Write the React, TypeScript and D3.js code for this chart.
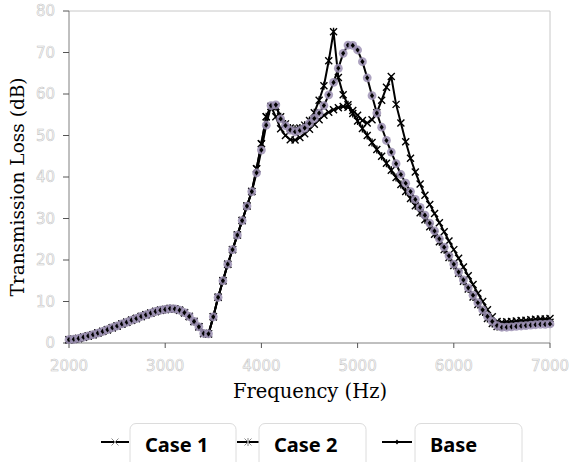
import React from 'react'
import * as d3 from 'd3'

const width = 571
const height = 462
const margin = { left: 69, right: 21, top: 11, bottom: 119 }

// frequency grid of the solver output, 50 Hz steps
const freqs = d3.range(2000, 7001, 50)
const xTicks = [2000, 3000, 4000, 5000, 6000, 7000]
const yTicks = [0, 10, 20, 30, 40, 50, 60, 70, 80]

// 2000 - 3450 Hz, the three curves sit on top of each other
const lowBand = [0.8, 0.9, 1.1, 1.4, 1.7, 2.0, 2.4, 2.8, 3.2, 3.7, 4.1, 4.6, 5.0, 5.5, 5.9, 6.4, 6.8, 7.2, 7.6, 7.9, 8.1, 8.3, 8.2, 7.9, 7.3, 6.4, 5.2, 3.9, 2.3, 2.2]
// 3500 - 4100 Hz
const riseBase = [6.3, 11.0, 15.0, 19.0, 22.5, 26.0, 29.5, 33.0, 36.5, 41.0, 46.5, 52.5, 57.2]
const riseCase = [6.3, 11.0, 15.0, 19.0, 22.5, 26.0, 29.5, 33.0, 36.5, 42.0, 48.0, 54.5, 57.0]

// 4150 - 7000 Hz
const case1High = [54.5, 51.6, 50.0, 49.0, 48.9, 49.5, 50.4, 51.5, 52.7, 53.8, 54.9, 55.6, 56.2, 56.7, 57.0, 56.8, 56.0, 54.9,
  53.6, 53.0, 53.8, 55.5, 58.5, 61.6, 64.2, 57.5, 53.0, 48.5, 44.5, 41.2, 38.3, 35.6, 33.4, 31.2, 29.0, 26.8, 24.6, 22.5,
  20.4, 18.3, 16.2, 14.1, 12.0, 10.0, 8.0, 6.3, 5.2, 5.0, 5.1, 5.2, 5.3, 5.4, 5.5, 5.6, 5.7, 5.8, 5.8, 5.9]
const case2High = [57.0, 54.5, 52.8, 51.8, 51.5, 51.8, 52.5, 53.6, 55.5, 58.5, 62.0, 68.0, 75.0, 64.0, 59.8, 57.4, 55.3, 53.5,
  51.7, 50.0, 48.3, 46.6, 45.0, 43.3, 41.6, 39.9, 38.2, 36.5, 34.8, 33.1, 31.4, 29.7, 28.0, 26.2, 24.4, 22.5, 20.6, 18.7,
  16.8, 14.9, 13.0, 11.1, 9.3, 7.5, 5.9, 4.7, 4.0, 4.0, 4.1, 4.2, 4.3, 4.4, 4.5, 4.6, 4.7, 4.8, 4.9, 5.0]
const baseHigh = [57.4, 54.0, 52.4, 51.3, 50.9, 51.2, 51.8, 52.9, 54.1, 55.4, 57.2, 59.8, 62.8, 66.2, 69.8, 71.8, 71.7, 70.6,
  67.8, 63.9, 59.6, 55.4, 52.0, 48.8, 46.0, 43.2, 40.6, 38.5, 36.5, 34.6, 32.7, 30.8, 28.9, 27.0, 25.1, 23.1, 21.0, 19.0,
  17.1, 15.2, 13.3, 11.5, 9.7, 8.0, 6.4, 5.2, 4.2, 3.8, 3.8, 3.9, 4.0, 4.1, 4.2, 4.3, 4.4, 4.5, 4.5, 4.6]

const case1 = [...lowBand, ...riseCase, ...case1High]
const case2 = [...lowBand, ...riseCase, ...case2High]
const base = [...lowBand, ...riseBase, ...baseHigh]

const seriesNames = ['Case 1', 'Case 2', 'Base']
const seriesValues = [case1, case2, base]

const x = d3.scaleLinear().domain([2000, 7000]).range([margin.left, width - margin.right])
const y = d3.scaleLinear().domain([0, 80]).range([height - margin.bottom, margin.top])

const line = d3.line<number>()
  .x((d, i) => x(freqs[i]))
  .y(d => y(d))

const Marker = ({ kind, cx, cy, legend }: { kind: number, cx: number, cy: number, legend?: boolean }) => {
  const col = legend ? '#8a8a8a' : '#000'
  if (kind === 2) {
    return (
      <g transform={`translate(${cx},${cy})`}>
        {!legend && <circle r={4.4} fill="#9d92b4" opacity={0.85} />}
        <path d="M0,-2.6L2.1,0L0,2.6L-2.1,0Z" fill="#000" />
      </g>
    )
  }
  const s = 3.5
  let d = `M${-s},${-s}L${s},${s}M${-s},${s}L${s},${-s}`
  if (kind === 1) d += `M0,${-s - 0.5}V${s + 0.5}`
  return <path transform={`translate(${cx},${cy})`} d={d} stroke={col} strokeWidth={legend ? 1 : 1.4} fill="none" />
}

const legendItems = [
  { line: [101, 129], box: [130, 236], text: 145 },
  { line: [237, 259], box: [259, 366], text: 274 },
  { line: [382, 412], box: [415, 522], text: 430 },
]

const tickText = { fontFamily: 'DejaVu Sans', fontSize: 15, fill: '#fbfbfb', stroke: '#c2c2c2', strokeWidth: 0.55 }

export default function App() {
  const x0 = margin.left
  const x1 = width - margin.right
  const y0 = height - margin.bottom
  const y1 = margin.top
  return (
    <div style={{ position: 'absolute', left: 0, top: 0 }}>
      <svg width={width} height={height} style={{ display: 'block', background: '#fff' }}>
        {/* frame */}
        <line x1={x0} x2={x1} y1={y1} y2={y1} stroke="#c8c8c8" />
        <line x1={x1} x2={x1} y1={y1} y2={y0} stroke="#c8c8c8" />
        <line x1={x0} x2={x0} y1={y1} y2={y0} stroke="#808080" />
        <line x1={x0} x2={x1} y1={y0} y2={y0} stroke="#808080" />

        {yTicks.map(t => (
          <g key={'y' + t}>
            <line x1={x0 - 6} x2={x0} y1={y(t)} y2={y(t)} stroke="#555" />
            <text x={x0 - 14} y={y(t) + 5} textAnchor="end" {...tickText}>{t}</text>
          </g>
        ))}
        {xTicks.map(t => (
          <g key={'x' + t}>
            <line x1={x(t)} x2={x(t)} y1={y0} y2={y0 + 5} stroke="#555" />
            <text x={x(t)} y={y0 + 28} textAnchor="middle" {...tickText}>{t}</text>
          </g>
        ))}

        <text transform={`translate(24,${(y0 + y1) / 2 + 10}) rotate(-90)`} textAnchor="middle"
          fontFamily="DejaVu Serif" fontSize={18.5} fill="#000">Transmission Loss (dB)</text>
        <text x={310} y={398} textAnchor="middle" fontFamily="DejaVu Serif" fontSize={19.5} fill="#000">Frequency (Hz)</text>

        {seriesValues.map((vals, si) => (
          <g key={seriesNames[si]}>
            <path d={line(vals) || ''} fill="none" stroke="#000" strokeWidth={2} strokeLinejoin="round" />
            {vals.map((v, i) => (
              <Marker key={i} kind={si} cx={x(freqs[i])} cy={y(v)} />
            ))}
          </g>
        ))}

        {legendItems.map((it, i) => (
          <g key={'lg' + i}>
            <line x1={it.line[0]} x2={it.line[1]} y1={442} y2={442} stroke="#000" strokeWidth={2} />
            <Marker kind={i} cx={(it.line[0] + it.line[1]) / 2} cy={442} legend />
            <rect x={it.box[0]} y={423.5} width={it.box[1] - it.box[0]} height={50} rx={6}
              fill="#fff" stroke="#dcdcdc" />
            <text x={it.text} y={452} fontFamily="Noto Sans" fontWeight="bold" fontSize={20} fill="#000">{seriesNames[i]}</text>
          </g>
        ))}
      </svg>
    </div>
  )
}
